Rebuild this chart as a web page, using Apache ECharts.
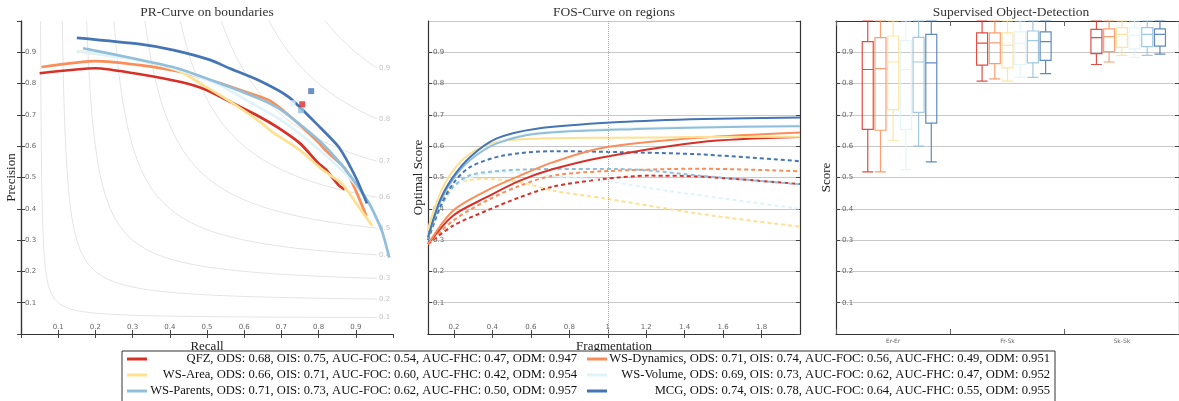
<!DOCTYPE html>
<html>
<head>
<meta charset="UTF-8">
<title>Segmentation benchmark</title>
<script src="https://cdn.jsdelivr.net/npm/echarts@6/dist/echarts.min.js"></script>
</head>
<body style="margin:0;background:#fff">
<div id="main" style="width:1179px;height:401px;"></div>
<script type="text/javascript">
// methods, in legend order (row by row)
var methods = ['QFZ', 'WS-Dynamics', 'WS-Area', 'WS-Volume', 'WS-Parents', 'MCG'];
var colors = ['#d73027', '#fc8d59', '#fee090', '#e0f3f8', '#91bfdb', '#4575b4'];
var ods = [0.68, 0.71, 0.66, 0.69, 0.71, 0.74];
var ois = [0.75, 0.74, 0.71, 0.73, 0.73, 0.78];
var aucFoc = [0.54, 0.56, 0.60, 0.62, 0.62, 0.64];
var aucFhc = [0.47, 0.49, 0.42, 0.47, 0.50, 0.55];
var odm = [0.947, 0.951, 0.954, 0.952, 0.957, 0.955];

// PR curves: [recall, precision]
var prQFZ = [[0.05,0.833],[0.20,0.849],[0.32,0.83],[0.43,0.805],[0.50,0.779],[0.57,0.737],[0.64,0.695],[0.69,0.66],[0.75,0.609],[0.80,0.545],[0.82,0.525],[0.855,0.474],[0.87,0.462]];
var prDynamics = [[0.055,0.853],[0.20,0.872],[0.32,0.859],[0.43,0.837],[0.525,0.805],[0.605,0.773],[0.67,0.745],[0.72,0.699],[0.80,0.612],[0.82,0.585],[0.87,0.53],[0.90,0.458],[0.928,0.378]];
var prArea = [[0.15,0.904],[0.29,0.881],[0.42,0.843],[0.50,0.788],[0.57,0.737],[0.64,0.68],[0.675,0.646],[0.75,0.587],[0.81,0.525],[0.863,0.48],[0.909,0.404],[0.944,0.346]];
var prVolume = [[0.15,0.904],[0.30,0.878],[0.42,0.845],[0.525,0.80],[0.64,0.724],[0.70,0.683],[0.80,0.59],[0.89,0.49],[0.93,0.43]];
var prParents = [[0.167,0.913],[0.30,0.881],[0.42,0.849],[0.525,0.805],[0.64,0.752],[0.70,0.715],[0.79,0.63],[0.82,0.596],[0.87,0.529],[0.936,0.417],[0.97,0.33],[0.99,0.244]];
var prMCG = [[0.15,0.946],[0.32,0.926],[0.41,0.907],[0.51,0.875],[0.56,0.849],[0.64,0.81],[0.72,0.757],[0.80,0.665],[0.855,0.596],[0.90,0.50],[0.93,0.417]];
var prCurves = [prQFZ, prDynamics, prArea, prVolume, prParents, prMCG];
// OIS squares (only the visible ones)
var oisPoints = [[0.756,0.734], null, null, [0.73,0.737], [0.753,0.715], [0.78,0.776]];
// iso-F guide levels
var isoF = [0.1, 0.2, 0.3, 0.4, 0.5, 0.6, 0.7, 0.8, 0.9];

// FOS curves: [fragmentation, optimal score]
var fosQFZ = [[0.065,0.287],[0.195,0.378],[0.37,0.437],[0.543,0.49],[0.716,0.527],[0.976,0.565],[1.478,0.613],[2.0,0.629]];
var fosQFZDash = [[0.065,0.287],[0.195,0.346],[0.37,0.394],[0.543,0.437],[0.716,0.471],[0.976,0.495],[1.218,0.506],[1.478,0.503],[2.0,0.479]];
var fosDynamics = [[0.065,0.287],[0.195,0.394],[0.37,0.458],[0.543,0.506],[0.716,0.549],[0.976,0.595],[1.478,0.627],[2.0,0.644]];
var fosDynamicsDash = [[0.065,0.287],[0.195,0.362],[0.37,0.426],[0.543,0.474],[0.716,0.506],[0.976,0.52],[1.478,0.528],[2.0,0.52]];
var fosArea = [[0.065,0.336],[0.127,0.448],[0.195,0.522],[0.283,0.576],[0.42,0.613],[0.63,0.624],[1.0,0.627],[1.5,0.629],[2.0,0.63]];
var fosAreaDash = [[0.065,0.33],[0.127,0.42],[0.195,0.474],[0.283,0.492],[0.37,0.495],[0.543,0.485],[0.716,0.458],[0.976,0.434],[1.478,0.384],[2.0,0.343]];
var fosVolume = [[0.065,0.31],[0.127,0.43],[0.195,0.5],[0.283,0.558],[0.42,0.61],[0.63,0.642],[1.06,0.656],[1.5,0.662],[2.0,0.666]];
var fosVolumeDash = [[0.065,0.30],[0.127,0.40],[0.195,0.465],[0.283,0.5],[0.456,0.517],[0.716,0.505],[1.0,0.488],[1.305,0.458],[2.0,0.40]];
var fosParents = [[0.065,0.305],[0.127,0.42],[0.195,0.495],[0.283,0.555],[0.42,0.608],[0.63,0.64],[1.06,0.653],[1.5,0.66],[2.0,0.664]];
var fosParentsDash = [[0.065,0.30],[0.127,0.40],[0.195,0.469],[0.283,0.507],[0.456,0.522],[0.716,0.527],[1.06,0.527],[1.218,0.522],[1.478,0.506],[2.0,0.478]];
var fosMCG = [[0.065,0.309],[0.127,0.426],[0.195,0.501],[0.283,0.565],[0.42,0.624],[0.63,0.656],[1.06,0.677],[1.5,0.687],[2.0,0.692]];
var fosMCGDash = [[0.065,0.30],[0.127,0.405],[0.195,0.48],[0.283,0.533],[0.456,0.57],[0.716,0.584],[1.06,0.581],[1.478,0.574],[2.0,0.552]];
var fosSolid = [fosQFZ, fosDynamics, fosArea, fosVolume, fosParents, fosMCG];
var fosDashed = [fosQFZDash, fosDynamicsDash, fosAreaDash, fosVolumeDash, fosParentsDash, fosMCGDash];
var fragTicks = [0.2, 0.4, 0.6, 0.8, 1, 1.2, 1.4, 1.6, 1.8];

// boxplots: [min, Q1, median, Q3, max], one row per method
var boxCats = ['Er-Er', 'Fr-Sk', 'Sk-Sk'];
var boxErEr = [[0.518,0.654,0.845,0.934,1.0],[0.518,0.651,0.848,0.947,1.0],[0.619,0.717,0.869,0.952,1.0],[0.525,0.654,0.845,0.937,1.0],[0.60,0.708,0.869,0.948,1.0],[0.55,0.674,0.866,0.957,1.0]];
var boxFrSk = [[0.808,0.859,0.929,0.962,1.0],[0.815,0.864,0.93,0.962,1.0],[0.808,0.85,0.922,0.962,1.0],[0.82,0.861,0.929,0.965,1.0],[0.82,0.866,0.937,0.968,1.0],[0.832,0.874,0.934,0.965,1.0]];
var boxSkSk = [[0.861,0.896,0.947,0.973,1.0],[0.869,0.902,0.95,0.975,1.0],[0.89,0.916,0.957,0.979,1.0],[0.884,0.911,0.954,0.978,1.0],[0.89,0.918,0.957,0.979,1.0],[0.894,0.92,0.957,0.975,1.0]];
var boxStats = [boxErEr, boxFrSk, boxSkSk];

var serif = 'Liberation Serif';
var myChart = echarts.init(document.getElementById('main'));

function legendLabel(i) {
    return methods[i] + ', ODS: ' + ods[i].toFixed(2) + ', OIS: ' + ois[i].toFixed(2) +
        ', AUC-FOC: ' + aucFoc[i].toFixed(2) + ', AUC-FHC: ' + aucFhc[i].toFixed(2) +
        ', ODM: ' + odm[i].toFixed(3);
}

// iso-F guide curve: P = F*R / (2R - F)
function isoCurve(f) {
    var r0 = f / (2 - f), pts = [];
    for (var k = 0; k <= 60; k++) {
        var t = k / 60;
        var r = r0 + (0.957 - r0) * t * t * t;
        pts.push([r, f * r / (2 * r - f)]);
    }
    return pts;
}

var tickStyle = {show: true, inside: true, length: 4, lineStyle: {color: '#444'}};
var lineAxis = {show: true, lineStyle: {color: '#333', width: 1.2}};
var tinyLabel = {fontSize: 7, color: '#666', fontFamily: 'DejaVu Sans'};

function yLeft(grid, name, grids, margin) {
    return {
        type: 'value', gridIndex: grid, position: 'left', min: 0, max: 1, interval: 0.1,
        name: name, nameLocation: 'middle', nameGap: 3,
        nameTextStyle: {fontFamily: serif, fontSize: 13, color: '#222'},
        axisLine: lineAxis, axisTick: tickStyle,
        axisLabel: Object.assign({inside: true, margin: margin, showMinLabel: false, showMaxLabel: false}, tinyLabel),
        splitLine: {show: grids, lineStyle: {color: '#c8c8c8', width: 1}}
    };
}
function yRight(grid) {
    return {
        type: 'value', gridIndex: grid, position: 'right', min: 0, max: 1, interval: 0.1,
        axisLine: lineAxis, axisTick: tickStyle, axisLabel: {show: false}, splitLine: {show: false}
    };
}

var series = [];

// panel 1: iso-F guides
isoF.forEach(function (f) {
    series.push({
        type: 'line', xAxisIndex: 0, yAxisIndex: 0, data: isoCurve(f), z: 1,
        showSymbol: false, silent: true, lineStyle: {color: '#e4e4e4', width: 1},
        endLabel: {show: true, formatter: String(f), distance: 2, fontSize: 7, color: '#c4c4c4', fontFamily: 'DejaVu Sans'}
    });
});
// panel 1: PR curves + OIS squares
methods.forEach(function (m, i) {
    series.push({
        type: 'line', name: m, xAxisIndex: 0, yAxisIndex: 0, data: prCurves[i], z: 3,
        smooth: 0.2, showSymbol: false, lineStyle: {color: colors[i], width: 2.7}, itemStyle: {color: colors[i]}
    });
});
methods.forEach(function (m, i) {
    if (!oisPoints[i]) return;
    series.push({
        type: 'scatter', name: m, xAxisIndex: 0, yAxisIndex: 0, data: [oisPoints[i]], z: 5,
        symbol: 'rect', symbolSize: 6, itemStyle: {color: colors[i]}
    });
});

// panel 2: FOS curves (dashed behind, solid on top)
methods.forEach(function (m, i) {
    series.push({
        type: 'line', name: m, xAxisIndex: 2, yAxisIndex: 2, data: fosDashed[i], z: 3,
        smooth: 0.3, showSymbol: false,
        lineStyle: {color: colors[i], width: 2, type: [4, 3]}, itemStyle: {color: colors[i]}
    });
});
methods.forEach(function (m, i) {
    var s = {
        type: 'line', name: m, xAxisIndex: 2, yAxisIndex: 2, data: fosSolid[i], z: 4,
        smooth: 0.3, showSymbol: false,
        lineStyle: {color: colors[i], width: 2}, itemStyle: {color: colors[i]}
    };
    if (i === 0) {
        s.markLine = {silent: true, symbol: 'none', label: {show: false},
            lineStyle: {type: 'dotted', color: '#aaa', width: 1}, data: [{xAxis: 1}]};
    }
    series.push(s);
});

// panel 3: boxes, 9 slots per category, methods in slots 2..7
var boxItems = [];
boxStats.forEach(function (cat, c) {
    cat.forEach(function (st, m) {
        boxItems.push({value: [c * 9 + 2 + m + 0.5].concat(st), itemStyle: {borderColor: colors[m]}});
    });
});
series.push({
    type: 'boxplot', xAxisIndex: 4, yAxisIndex: 4, data: boxItems, boxWidth: [11, 11], silent: true,
    itemStyle: {color: 'rgba(255,255,255,0)', borderWidth: 1.2, opacity: 0.85}
});

// legend box drawn as graphic: two right-aligned columns
var legendGraphic = [{
    type: 'rect', shape: {x: 122, y: 351, width: 933, height: 60}, z: 10,
    style: {fill: '#fff', stroke: '#333', lineWidth: 1}
}];
methods.forEach(function (m, i) {
    var col = i % 2, row = Math.floor(i / 2);
    var y = 359 + row * 16;
    var x0 = col ? 587 : 127, xr = col ? 1050 : 577;
    legendGraphic.push({type: 'line', z: 11, shape: {x1: x0, y1: y, x2: x0 + 20, y2: y},
        style: {stroke: colors[i], lineWidth: 3}});
    legendGraphic.push({type: 'text', z: 11, x: xr, y: y,
        style: {text: legendLabel(i), font: '12.6px "Liberation Serif"', fill: '#111', align: 'right', verticalAlign: 'middle'}});
});

var option = {
    animation: false,
    backgroundColor: '#fff',
    title: [
        {text: 'PR-Curve on boundaries', left: 207, top: 5, padding: 0, textAlign: 'center', textVerticalAlign: 'top'},
        {text: 'FOS-Curve on regions', left: 614, top: 5, padding: 0, textAlign: 'center', textVerticalAlign: 'top'},
        {text: 'Supervised Object-Detection', left: 1011, top: 5, padding: 0, textAlign: 'center', textVerticalAlign: 'top'}
    ].map(function (t) {
        t.textStyle = {fontFamily: serif, fontSize: 13.5, fontWeight: 'normal', color: '#333'};
        return t;
    }),
    graphic: legendGraphic,
    grid: [
        {left: 21, top: 21, width: 372, height: 313},
        {left: 428, top: 21, width: 372, height: 313},
        {left: 836, top: 21, width: 351, height: 313}
    ],
    xAxis: [
        {
            type: 'value', gridIndex: 0, position: 'bottom', min: 0, max: 1, interval: 0.1,
            name: 'Recall', nameLocation: 'middle', nameGap: 0,
            nameTextStyle: {fontFamily: serif, fontSize: 13, color: '#222'},
            axisLine: lineAxis, axisTick: tickStyle,
            axisLabel: Object.assign({inside: true, margin: 3, showMinLabel: false, showMaxLabel: false}, tinyLabel),
            splitLine: {show: false}
        },
        {
            type: 'value', gridIndex: 0, position: 'top', min: 0, max: 1, interval: 0.1,
            axisLine: lineAxis, axisTick: tickStyle, axisLabel: {show: false}, splitLine: {show: false}
        },
        {
            type: 'value', gridIndex: 1, position: 'bottom', min: 0.065, max: 2,
            name: 'Fragmentation', nameLocation: 'middle', nameGap: 0,
            nameTextStyle: {fontFamily: serif, fontSize: 13, color: '#222'},
            axisLine: lineAxis,
            axisTick: Object.assign({customValues: fragTicks}, tickStyle),
            axisLabel: Object.assign({inside: true, margin: 3, customValues: fragTicks}, tinyLabel),
            splitLine: {show: false}
        },
        {
            type: 'value', gridIndex: 1, position: 'top', min: 0.065, max: 2,
            axisLine: lineAxis, axisTick: Object.assign({customValues: fragTicks}, tickStyle),
            axisLabel: {show: false}, splitLine: {show: false}
        },
        {type: 'value', gridIndex: 2, position: 'bottom', min: 0, max: 27, show: false},
        {
            type: 'category', gridIndex: 2, position: 'bottom', data: boxCats,
            axisLine: lineAxis, axisTick: {show: true, inside: true, length: 5, lineStyle: {color: '#666'}},
            axisLabel: {margin: 4, fontSize: 6, color: '#666', fontFamily: 'DejaVu Sans'}
        },
        {
            type: 'category', gridIndex: 2, position: 'top', data: boxCats,
            axisLine: lineAxis, axisTick: {show: true, inside: true, length: 5, lineStyle: {color: '#666'}},
            axisLabel: {show: false}
        }
    ],
    yAxis: [
        yLeft(0, 'Precision', false, 4), yRight(0),
        yLeft(1, 'Optimal Score', true, 5), yRight(1),
        yLeft(2, 'Score', true, 6), yRight(2)
    ],
    series: series
};

myChart.setOption(option);
</script>
</body>
</html>
